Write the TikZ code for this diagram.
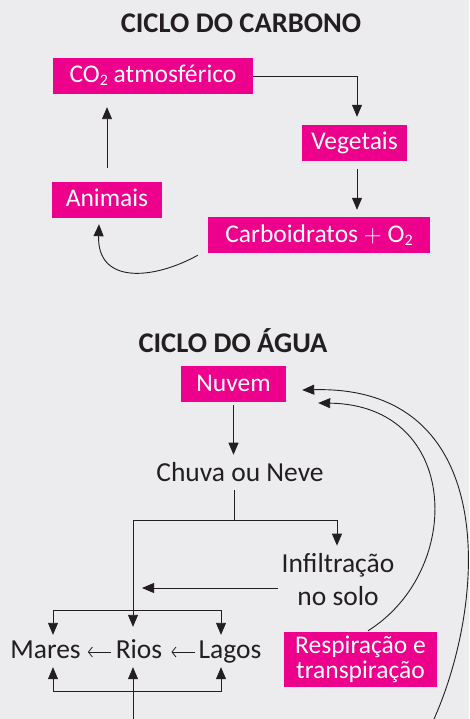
\documentclass[tikz,border=0pt]{standalone}
\usepackage{fontspec}
\setmainfont{Carlito}
\usetikzlibrary{arrows.meta,calc}
\definecolor{fundo}{RGB}{236,236,238}
\definecolor{rosa}{RGB}{236,0,140}
\definecolor{tinta}{RGB}{35,31,32}
\newcommand{\sub}[1]{\raisebox{-3pt}{\fontsize{16}{16}\selectfont #1}}
\begin{document}
\begin{tikzpicture}[x=1pt,y=-1pt,
  every node/.style={font=\fontsize{27.5}{27}\selectfont,text=tinta},
  titulo/.style={font=\bfseries\fontsize{28.5}{30}\selectfont,anchor=base,inner sep=0pt},
  caixa/.style={fill=rosa,text=white,inner sep=0pt,minimum height=36pt,
    text height=14pt,text depth=0pt,font=\fontsize{25.5}{25}\selectfont},
  termo/.style={anchor=base,inner sep=0pt,text height=17pt,text depth=5pt},
  linha/.style={draw=tinta,line width=0.9pt},
  seta/.style={linha,-{Triangle[length=12pt,width=10pt]}},
  seta2/.style={linha,{Triangle[length=12pt,width=10pt]}-{Triangle[length=12pt,width=10pt]}},
  setinha/.style={draw=tinta,line width=0.8pt,-{Straight Barb[length=4pt,width=10pt]}}]
\useasboundingbox (0,0) rectangle (469,719);
\fill[fundo] (0,0) rectangle (469,719);
% ciclo do carbono
\node[titulo] (tcarb) at (241,33) {CICLO DO CARBONO};
\node[caixa,minimum width=200pt] (co2) at (153,76) {CO\sub{2} atmosférico};
\node[caixa,minimum width=105pt] (veg) at (354.5,143) {Vegetais};
\node[caixa,minimum width=110pt] (ani) at (107,200) {Animais};
\node[caixa,minimum width=222pt] (carb) at (319,235) {Carboidratos $+$ O\sub{2}};
\draw[seta,shorten >=8pt] (co2.east) -| ([xshift=2.5pt]veg.north);
\draw[seta,shorten <=8pt,shorten >=7pt] ([xshift=2.5pt]veg.south) -- ([xshift=2.5pt]veg.south |- carb.north);
\draw[seta] ([shift={(-10,2)}]carb.south west) .. controls +(-45,25) and +(-2,60) .. ([shift={(-8,6)}]ani.south);
\draw[seta,shorten <=14pt,shorten >=13pt] (ani.north) -- (ani.north |- co2.south);
% ciclo da agua
\node[titulo] (tagua) at (233,352) {CICLO DO ÁGUA};
\node[caixa,minimum width=105pt] (nuv) at (233.5,384) {Nuvem};
\node[anchor=base,inner sep=0pt] (chuva) at (240,481) {Chuva ou Neve};
\node[align=center,inner sep=0pt,font=\fontsize{27.5}{33}\selectfont] (inf) at (338,580) {Infiltração\\no solo};
\node[termo] (mares) at (45.5,658) {Mares};
\node[termo] (rios) at (139,658) {Rios};
\node[termo] (lagos) at (230,658) {Lagos};
\node[fill=rosa,text=white,align=center,inner sep=0pt,minimum width=153pt,minimum height=55pt,
  font=\fontsize{25.5}{25}\selectfont] (resp) at (360.5,659.5) {Respiração e\\transpiração};
\coordinate (ramo) at (234,520);
\coordinate (fonte) at (133,719);
\coordinate (saida) at (434,719);
\draw[seta,shorten <=3pt,shorten >=7pt] (nuv.south) -- (nuv.south |- chuva.north);
\draw[linha,shorten <=9pt] (chuva.south -| ramo) -- (ramo);
\draw[seta,shorten >=8pt] (ramo) -| ([xshift=-1pt]inf.north);
\draw[seta,shorten >=14pt] (ramo) -| ([xshift=-6pt]rios.north);
\draw[seta,shorten <=4pt] ($(inf.west)+(0,8)$) -- ($(inf.west -| rios.north)+(3,8)$);
\draw[seta2,shorten <=6pt,shorten >=6pt] ([xshift=7.5pt]mares.north) -- ++(0,-30) -| ([xshift=-9pt]lagos.north);
\draw[seta2,shorten <=4pt,shorten >=4pt] ([xshift=7.5pt]mares.south) -- ++(0,28) -| ([xshift=-9pt]lagos.south);
\draw[seta,shorten >=4pt] (fonte) -- ([xshift=-6pt]rios.south);
\draw[setinha,shorten <=5pt,shorten >=7pt] (rios.west) -- (mares.east);
\draw[setinha,shorten <=3pt,shorten >=9pt] (lagos.west) -- (rios.east);
\draw[seta] ([shift={(7.5,-1)}]resp.north) .. controls +(97,-61) and +(142,2) .. ([shift={(32,19)}]nuv.east);
\draw[seta] (saida) .. controls +(53,-119) and +(198,-5) .. ([shift={(16,6)}]nuv.east);
\end{tikzpicture}
\end{document}
